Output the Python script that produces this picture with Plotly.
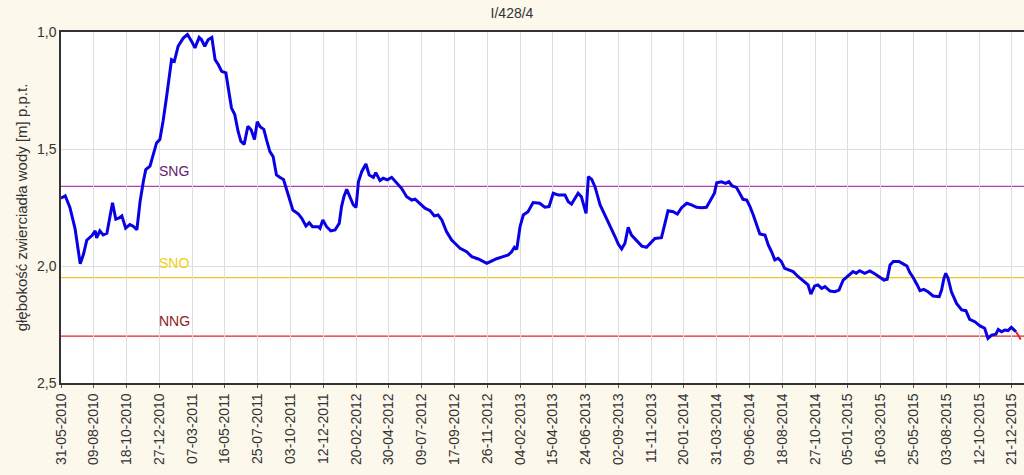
import datetime as dt
import plotly.graph_objects as go

# ---- data ----
start_date = "2010-05-31"
day_offsets = [0, 9, 19, 30, 41, 48, 55, 66, 73, 76, 83, 90, 98, 103, 110, 117, 124, 130, 138, 147,
               154, 162, 169, 176, 181, 190, 197, 204, 211, 218, 226, 233, 236, 242, 250, 261, 270, 279, 286, 295,
               300, 307, 314, 322, 329, 336, 343, 352, 357, 364, 371, 378, 384, 391, 399, 406, 413, 419, 425, 433,
               439, 446, 453, 460, 467, 475, 482, 489, 495, 507, 514, 523, 530, 537, 549, 553, 559, 567, 576, 585,
               594, 599, 604, 610, 617, 624, 630, 635, 642, 651, 658, 667, 672, 681, 688, 697, 706, 717, 727, 738,
               749, 756, 766, 777, 788, 797, 805, 813, 823, 834, 841, 852, 866, 877, 891, 909, 919, 930, 944, 955,
               962, 968, 973, 980, 987, 997, 1008, 1022, 1033, 1042, 1051, 1062, 1076, 1083, 1090, 1097, 1104, 1111, 1117, 1121,
               1126, 1133, 1140, 1151, 1161, 1172, 1183, 1190, 1197, 1204, 1211, 1218, 1229, 1240, 1250, 1261, 1268, 1282, 1289, 1296,
               1307, 1316, 1325, 1336, 1346, 1357, 1368, 1378, 1387, 1395, 1400, 1410, 1419, 1426, 1433, 1442, 1449, 1456, 1464, 1471,
               1478, 1485, 1492, 1503, 1510, 1517, 1524, 1531, 1538, 1545, 1556, 1563, 1574, 1585, 1595, 1601, 1609, 1616, 1624, 1631,
               1642, 1652, 1661, 1670, 1680, 1691, 1698, 1705, 1716, 1727, 1738, 1748, 1757, 1764, 1770, 1777, 1789, 1798, 1806, 1812,
               1819, 1828, 1834, 1842, 1851, 1862, 1875, 1880, 1885, 1889, 1894, 1901, 1912, 1923, 1932, 1940, 1951, 1962, 1972, 1979,
               1987, 1996, 2001, 2008, 2015, 2022, 2029, 2039]
depth = [1.71, 1.70, 1.75, 1.84, 1.99, 1.95, 1.89, 1.87, 1.85, 1.88, 1.85, 1.867, 1.86, 1.81, 1.73, 1.80, 1.795, 1.786, 1.838, 1.823,
         1.83, 1.845, 1.722, 1.637, 1.588, 1.573, 1.517, 1.474, 1.46, 1.38, 1.268, 1.154, 1.118, 1.125, 1.061, 1.026, 1.011, 1.04, 1.068, 1.023,
         1.033, 1.061, 1.033, 1.023, 1.118, 1.14, 1.168, 1.175, 1.239, 1.325, 1.353, 1.424, 1.467, 1.481, 1.403, 1.418, 1.46, 1.383, 1.405, 1.416,
         1.462, 1.511, 1.533, 1.611, 1.621, 1.63, 1.675, 1.718, 1.761, 1.778, 1.796, 1.829, 1.815, 1.832, 1.832, 1.839, 1.803, 1.832, 1.85, 1.846,
         1.818, 1.746, 1.704, 1.672, 1.704, 1.739, 1.749, 1.64, 1.597, 1.564, 1.611, 1.621, 1.601, 1.635, 1.625, 1.632, 1.621, 1.647, 1.668, 1.704,
         1.718, 1.714, 1.732, 1.753, 1.764, 1.786, 1.782, 1.803, 1.853, 1.889, 1.903, 1.924, 1.939, 1.96, 1.97, 1.989, 1.979, 1.969, 1.96, 1.953,
         1.939, 1.92, 1.929, 1.832, 1.782, 1.768, 1.729, 1.732, 1.749, 1.746, 1.689, 1.697, 1.697, 1.725, 1.735, 1.711, 1.689, 1.704, 1.746, 1.775,
         1.618, 1.63, 1.661, 1.739, 1.782, 1.825, 1.875, 1.907, 1.927, 1.903, 1.835, 1.868, 1.892, 1.915, 1.92, 1.896, 1.882, 1.879, 1.818, 1.764,
         1.768, 1.778, 1.751, 1.732, 1.739, 1.749, 1.751, 1.749, 1.718, 1.689, 1.644, 1.64, 1.647, 1.64, 1.658, 1.664, 1.689, 1.715, 1.718, 1.746,
         1.782, 1.825, 1.863, 1.868, 1.91, 1.939, 1.974, 1.967, 1.981, 2.01, 2.017, 2.024, 2.046, 2.063, 2.081, 2.12, 2.085, 2.081, 2.096, 2.088,
         2.107, 2.11, 2.103, 2.06, 2.043, 2.024, 2.031, 2.02, 2.031, 2.021, 2.034, 2.048, 2.06, 2.057, 1.996, 1.981, 1.981, 1.991, 2.0, 2.027,
         2.048, 2.081, 2.105, 2.1, 2.11, 2.128, 2.131, 2.103, 2.053, 2.031, 2.053, 2.11, 2.16, 2.188, 2.191, 2.228, 2.238, 2.256, 2.266, 2.309,
         2.295, 2.291, 2.271, 2.281, 2.274, 2.276, 2.262, 2.281]
forecast_offsets = [2039, 2046, 2054, 2062]
forecast_depth = [2.281, 2.302, 2.33, 2.36]

threshold_names = ["SNG", "SNO", "NNG"]
threshold_values = [1.66, 2.05, 2.30]
threshold_line_colors = ["#B03CB0", "#E8C81E", "#E02424"]
threshold_text_colors = ["#5E1C6E", "#F2CC10", "#8E1C1C"]
label_offset_days = 206

title_text = "I/428/4"
y_title = "głębokość zwierciadła wody [m] p.p.t."
tick_step_days = 70
x_end_offset = 2056
y_ticks = [1.0, 1.5, 2.0, 2.5]

# ---- build ----
FONT = "Liberation Sans, Arial, sans-serif"
d0 = dt.datetime.strptime(start_date, "%Y-%m-%d")
dates = [d0 + dt.timedelta(days=d) for d in day_offsets]
f_dates = [d0 + dt.timedelta(days=d) for d in forecast_offsets]
x_end = d0 + dt.timedelta(days=x_end_offset)
label_x = d0 + dt.timedelta(days=label_offset_days)

fig = go.Figure()
fig.add_trace(go.Scatter(x=dates, y=depth, mode="lines",
                         line=dict(color="#0A00E6", width=3), showlegend=False))
fig.add_trace(go.Scatter(x=f_dates, y=forecast_depth, mode="lines",
                         line=dict(color="#E02424", width=2, dash="dash"), showlegend=False))

for name, val, lc, tc in zip(threshold_names, threshold_values, threshold_line_colors, threshold_text_colors):
    fig.add_shape(type="line", xref="paper", x0=0, x1=1, yref="y", y0=val, y1=val,
                  line=dict(color=lc, width=1.2), layer="below")
    fig.add_annotation(x=label_x, y=val, text=name, showarrow=False, xanchor="left",
                       yanchor="middle", yshift=15, font=dict(size=14, color=tc, family=FONT))

fig.update_layout(
    width=1024, height=475,
    paper_bgcolor="#FCF8EC", plot_bgcolor="#FFFFFF",
    margin=dict(l=61, r=0, t=32, b=92),
    separators=", ",
    font=dict(family=FONT, size=14, color="#333333"),
    title=dict(text=title_text, x=0.5, xanchor="center", y=1 - 13 / 475, yanchor="middle",
               font=dict(size=14, color="#333333")),
    showlegend=False,
)
fig.update_xaxes(
    type="date", range=[d0, x_end],
    tick0=d0, dtick=tick_step_days * 86400000, tickformat="%d-%m-%Y", tickangle=-90,
    ticks="outside", ticklen=3, tickcolor="#555555",
    showgrid=True, gridcolor="#DEDEDE", gridwidth=1,
    showline=True, linecolor="#333333", linewidth=1.5, mirror=True,
    tickfont=dict(size=14, color="#333333"), zeroline=False,
)
fig.update_yaxes(
    range=[2.5, 1.0], tickvals=y_ticks, tickformat=".1f",
    ticks="", showgrid=True, gridcolor="#DEDEDE", gridwidth=1,
    showline=True, linecolor="#333333", linewidth=1.5,
    title=dict(text=y_title, font=dict(size=15, color="#333333"), standoff=6),
    tickfont=dict(size=14, color="#333333"), zeroline=False,
)

fig.write_html("out.html")
